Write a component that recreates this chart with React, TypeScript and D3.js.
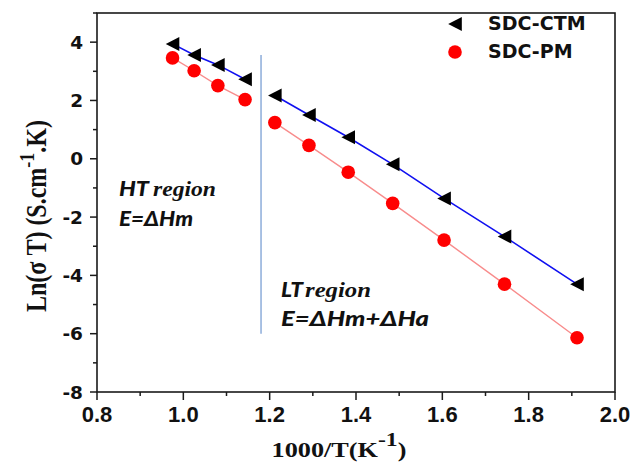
import React from "react";
import * as d3 from "d3";

const invT = [0.975, 1.025, 1.08, 1.143, 1.212, 1.291, 1.382, 1.485, 1.604, 1.744, 1.912];
const ctm = [3.94, 3.56, 3.22, 2.73, 2.17, 1.5, 0.74, -0.19, -1.36, -2.67, -4.3];
const pm = [3.46, 3.02, 2.51, 2.03, 1.24, 0.46, -0.46, -1.53, -2.79, -4.3, -6.14];
const htIdx = [0, 1, 2, 3];
const ltIdx = [4, 5, 6, 7, 8, 9, 10];
const xTicks = [0.8, 1.0, 1.2, 1.4, 1.6, 1.8, 2.0];
const xMinor = [0.9, 1.1, 1.3, 1.5, 1.7, 1.9];
const yTicks = [-8, -6, -4, -2, 0, 2, 4];
const yMinor = [-7, -5, -3, -1, 1, 3, 5];
const divider = { x: 1.18, y0: 3.56, y1: -6 };

const W = 632;
const H = 463;
const M = { left: 97, top: 13, right: 615, bottom: 392 };

export default function App() {
  const x = d3.scaleLinear().domain([0.8, 2.0]).range([M.left, M.right]);
  const y = d3.scaleLinear().domain([-8, 5]).range([M.bottom, M.top]);

  const line = (vals: number[], idx: number[]) =>
    d3
      .line<number>()
      .x((i) => x(invT[i]))
      .y((i) => y(vals[i]))(idx) || "";

  const tri = (cx: number, cy: number) =>
    `M${cx - 6.8},${cy} L${cx + 6.8},${cy - 7} L${cx + 6.8},${cy + 7} Z`;

  const sans = "'Liberation Sans', Arial, sans-serif";
  const dejavu = "'DejaVu Sans', sans-serif";
  const serif = "'Liberation Serif', 'Times New Roman', serif";
  const calib = "Lato, 'Open Sans', sans-serif";

  return (
    <svg
      width={W}
      height={H}
      style={{ position: "absolute", left: 0, top: 0, background: "#fff" }}
    >
      {/* frame */}
      <rect
        x={M.left}
        y={M.top}
        width={M.right - M.left}
        height={M.bottom - M.top}
        fill="none"
        stroke="#1a1a1a"
        strokeWidth={1.6}
      />
      {/* x ticks */}
      {xTicks.map((t) => (
        <g key={"xt" + t}>
          <line x1={x(t)} x2={x(t)} y1={M.bottom} y2={M.bottom + 8} stroke="#1a1a1a" strokeWidth={1.5} />
          <text
            x={x(t)}
            y={422}
            textAnchor="middle"
            fontFamily={sans}
            fontWeight="bold"
            fontSize={22}
            fill="#111"
          >
            {t.toFixed(1)}
          </text>
        </g>
      ))}
      {xMinor.map((t) => (
        <line key={"xm" + t} x1={x(t)} x2={x(t)} y1={M.bottom} y2={M.bottom + 4} stroke="#1a1a1a" strokeWidth={1.5} />
      ))}
      {/* y ticks */}
      {yTicks.map((t) => (
        <g key={"yt" + t}>
          <line x1={M.left - 7} x2={M.left} y1={y(t)} y2={y(t)} stroke="#1a1a1a" strokeWidth={1.5} />
          <text
            x={M.left - 14}
            y={y(t) + 6.5}
            textAnchor="end"
            fontFamily={dejavu}
            fontWeight="bold"
            fontSize={18.5}
            fill="#111"
          >
            {t}
          </text>
        </g>
      ))}
      {yMinor.map((t) => (
        <line key={"ym" + t} x1={M.left - 4} x2={M.left} y1={y(t)} y2={y(t)} stroke="#1a1a1a" strokeWidth={1.5} />
      ))}

      {/* axis titles */}
      <g transform={`translate(339,457) scale(1.25,1)`}>
        <text textAnchor="middle" fontFamily={serif} fontWeight="bold" fontSize={21} fill="#111">
          1000/T(K
          <tspan fontSize={19} dy={-11}>-1</tspan>
          <tspan dy={11}>)</tspan>
        </text>
      </g>
      <g transform={`translate(46,216) scale(1.2,1) rotate(-90)`}>
        <text textAnchor="middle" fontFamily={serif} fontWeight="bold" fontSize={24} fill="#111">
          Ln(σ T) (S.cm
          <tspan fontSize={18} dy={-10}>-1</tspan>
          <tspan dy={10}>.K)</tspan>
        </text>
      </g>

      {/* divider */}
      <line
        x1={x(divider.x)}
        x2={x(divider.x)}
        y1={y(divider.y0)}
        y2={y(divider.y1)}
        stroke="#7b9fd4"
        strokeWidth={1.3}
      />

      {/* lines */}
      <path d={line(pm, htIdx)} fill="none" stroke="#f88c8c" strokeWidth={1.4} />
      <path d={line(pm, ltIdx)} fill="none" stroke="#f88c8c" strokeWidth={1.4} />
      <path d={line(ctm, htIdx)} fill="none" stroke="#1010f0" strokeWidth={1.6} />
      <path d={line(ctm, ltIdx)} fill="none" stroke="#1010f0" strokeWidth={1.6} />

      {/* markers */}
      {invT.map((v, i) => (
        <circle key={"c" + i} cx={x(v)} cy={y(pm[i])} r={6.8} fill="#ff0000" />
      ))}
      {invT.map((v, i) => (
        <path key={"t" + i} d={tri(x(v), y(ctm[i]))} fill="#000" />
      ))}

      {/* annotations */}
      <text x={119} y={196} fontFamily={calib} fontStyle="italic" fontWeight="900" fontSize={20} fill="#111" textLength={30} lengthAdjust="spacingAndGlyphs">HT</text>
      <text x={153} y={196} fontFamily={serif} fontStyle="italic" fontWeight="bold" fontSize={22} fill="#111" textLength={63} lengthAdjust="spacingAndGlyphs">region</text>
      <text x={119} y={226} fontFamily={calib} fontStyle="italic" fontWeight="900" fontSize={20} fill="#111" textLength={74} lengthAdjust="spacingAndGlyphs">E=ΔHm</text>

      <text x={281} y={297} fontFamily={calib} fontStyle="italic" fontWeight="900" fontSize={20} fill="#111" textLength={22} lengthAdjust="spacingAndGlyphs">LT</text>
      <text x={305} y={297} fontFamily={serif} fontStyle="italic" fontWeight="bold" fontSize={22} fill="#111" textLength={66} lengthAdjust="spacingAndGlyphs">region</text>
      <text x={281} y={326} fontFamily={calib} fontStyle="italic" fontWeight="900" fontSize={20} fill="#111" textLength={148} lengthAdjust="spacingAndGlyphs">E=ΔHm+ΔHa</text>

      {/* legend */}
      <path d={tri(455, 24)} fill="#000" />
      <text x={488} y={30} fontFamily={dejavu} fontWeight="bold" fontSize={19} fill="#111">SDC-CTM</text>
      <circle cx={455} cy={52} r={6.8} fill="#ff0000" />
      <text x={488} y={58} fontFamily={dejavu} fontWeight="bold" fontSize={19} fill="#111">SDC-PM</text>
    </svg>
  );
}
